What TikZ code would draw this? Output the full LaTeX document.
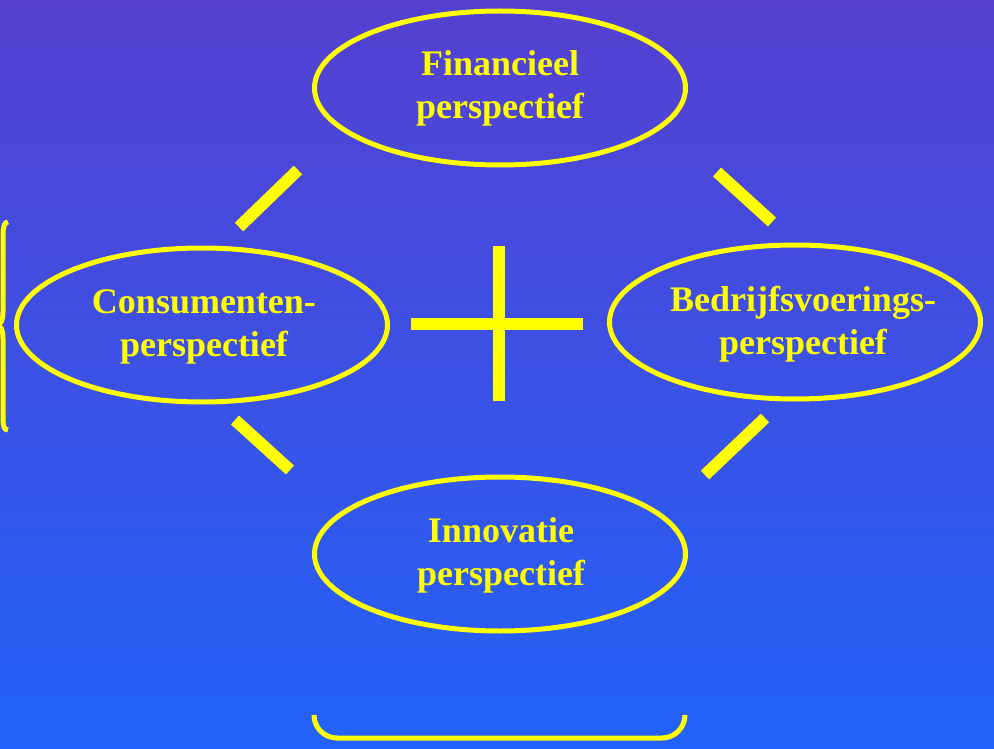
\documentclass[tikz,border=0pt]{standalone}
\usepackage{fontspec}
\setmainfont{Liberation Serif}
\usetikzlibrary{shapes.geometric}
\definecolor{bgtop}{RGB}{85,64,208}
\definecolor{bgbot}{RGB}{34,98,250}
\definecolor{ylw}{RGB}{255,255,0}
\begin{document}
\begin{tikzpicture}[x=1pt,y=-1pt,
  persp/.style={ellipse, draw=ylw, line width=5pt, minimum width=371pt, minimum height=154pt, inner sep=0pt},
  lbl/.style={text=ylw, align=center, font=\fontsize{36}{43}\selectfont\bfseries},
  bar/.style={draw=ylw, line width=12pt, line cap=butt},
  brace/.style={draw=ylw, line width=5pt}]
\shade[top color=bgtop, bottom color=bgbot] (0,0) rectangle (994,749);
\useasboundingbox (0,0) rectangle (994,749);
% ellipses
\node[persp] (fin) at (500,88) {};
\node[persp] (con) at (202,325) {};
\node[persp] (bed) at (795,322) {};
\node[persp] (inn) at (500,554) {};
% labels
\node[lbl] (finT) at (500,88) {Financieel\\perspectief};
\node[lbl] (conT) at (204,327) {Consumenten-\\perspectief};
\node[lbl] (bedT) at (803,324) {Bedrijfsvoerings-\\perspectief};
\node[lbl] (innT) at (501,555) {Innovatie\\perspectief};
% bars
\coordinate (b1a) at (239,227); \coordinate (b1b) at (298,170);
\coordinate (b2a) at (717,172); \coordinate (b2b) at (772,222);
\coordinate (b3a) at (235,420); \coordinate (b3b) at (290,470);
\coordinate (b4a) at (705,475); \coordinate (b4b) at (765,418);
\draw[bar] (b1a) -- (b1b);
\draw[bar] (b2a) -- (b2b);
\draw[bar] (b3a) -- (b3b);
\draw[bar] (b4a) -- (b4b);
% cross
\coordinate (cv1) at (499,246); \coordinate (cv2) at (499,401);
\coordinate (ch1) at (411,324); \coordinate (ch2) at (583,324);
\draw[bar] (cv1) -- (cv2);
\draw[bar] (ch1) -- (ch2);
% left brace
\draw[brace] (8,222) .. controls (4,222) and (3,228) .. (3,236) -- (3,312)
  .. controls (3,320) and (1,325) .. (-4,325)
  .. controls (1,325) and (3,330) .. (3,338) -- (3,418)
  .. controls (3,426) and (4,430) .. (8,430);
% bottom bracket
\coordinate (bb1) at (314,715); \coordinate (bb2) at (685,715);
\draw[brace, rounded corners=23pt] (bb1) -- (314,738) -- (685,738) -- (bb2);
\end{tikzpicture}
\end{document}
